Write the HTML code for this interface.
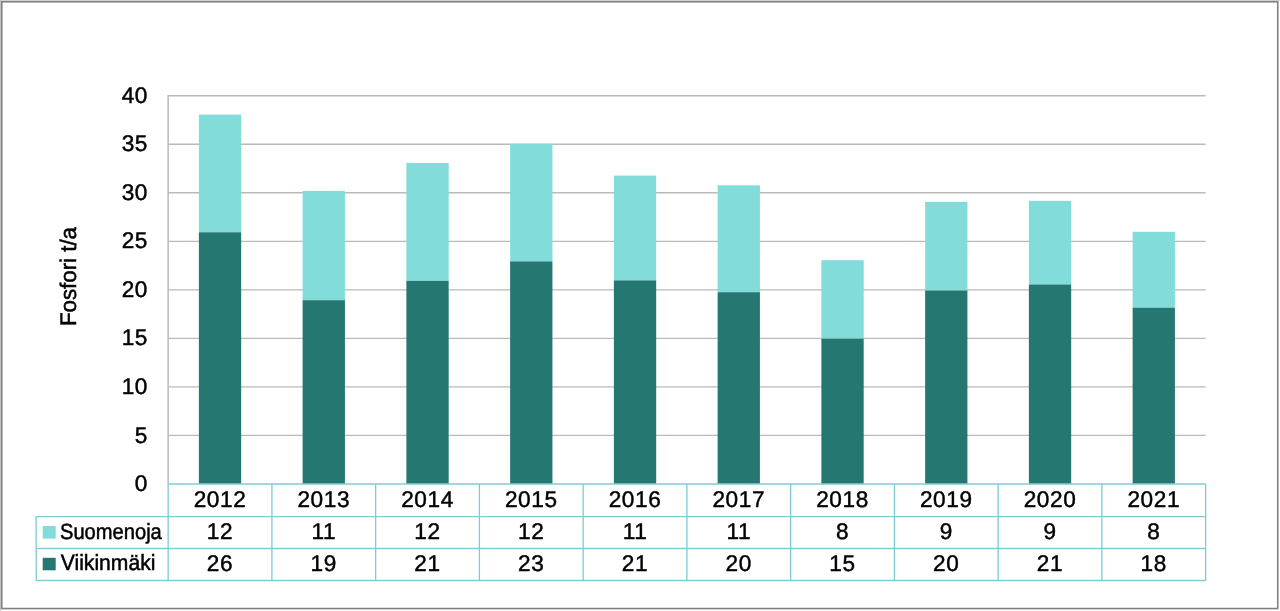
<!DOCTYPE html>
<html lang="fi"><head><meta charset="utf-8"><title>Fosfori t/a</title>
<style>html,body{margin:0;padding:0;background:#fff;overflow:hidden}body{width:1280px;height:611px;position:relative}</style></head>
<body>
<svg width="1280" height="611" viewBox="0 0 1280 611" style="display:block;position:absolute;left:0;top:0" font-family="Liberation Sans, sans-serif" fill="#000" text-rendering="geometricPrecision">
<rect x="0" y="0" width="1280" height="611" fill="#fff"/>
<rect x="0" y="0" width="1280" height="1" fill="#d6d6d6"/><rect x="0" y="0" width="1" height="611" fill="#c8c8c8"/>
<rect x="1.75" y="1.75" width="1276.0" height="606.8" fill="none" stroke="#808080" stroke-width="1.6"/>
<line x1="168.15" y1="435.38" x2="1205.65" y2="435.38" stroke="#bababa" stroke-width="1.33"/>
<line x1="168.15" y1="386.86" x2="1205.65" y2="386.86" stroke="#bababa" stroke-width="1.33"/>
<line x1="168.15" y1="338.33" x2="1205.65" y2="338.33" stroke="#bababa" stroke-width="1.33"/>
<line x1="168.15" y1="289.81" x2="1205.65" y2="289.81" stroke="#bababa" stroke-width="1.33"/>
<line x1="168.15" y1="241.29" x2="1205.65" y2="241.29" stroke="#bababa" stroke-width="1.33"/>
<line x1="168.15" y1="192.76" x2="1205.65" y2="192.76" stroke="#bababa" stroke-width="1.33"/>
<line x1="168.15" y1="144.24" x2="1205.65" y2="144.24" stroke="#bababa" stroke-width="1.33"/>
<line x1="168.15" y1="95.72" x2="1205.65" y2="95.72" stroke="#bababa" stroke-width="1.33"/>
<line x1="168.15" y1="95.12" x2="168.15" y2="483.9" stroke="#bababa" stroke-width="1.5"/>
<rect x="198.88" y="114.6" width="42.3" height="117.70" fill="#82dcd9"/>
<rect x="198.88" y="232.3" width="42.3" height="251.60" fill="#257772"/>
<rect x="302.62" y="190.9" width="42.3" height="109.30" fill="#82dcd9"/>
<rect x="302.62" y="300.2" width="42.3" height="183.70" fill="#257772"/>
<rect x="406.38" y="162.9" width="42.3" height="118.00" fill="#82dcd9"/>
<rect x="406.38" y="280.9" width="42.3" height="203.00" fill="#257772"/>
<rect x="510.12" y="143.9" width="42.3" height="117.50" fill="#82dcd9"/>
<rect x="510.12" y="261.4" width="42.3" height="222.50" fill="#257772"/>
<rect x="613.88" y="175.6" width="42.3" height="104.80" fill="#82dcd9"/>
<rect x="613.88" y="280.4" width="42.3" height="203.50" fill="#257772"/>
<rect x="717.62" y="185.3" width="42.3" height="106.90" fill="#82dcd9"/>
<rect x="717.62" y="292.2" width="42.3" height="191.70" fill="#257772"/>
<rect x="821.38" y="260.2" width="42.3" height="78.50" fill="#82dcd9"/>
<rect x="821.38" y="338.7" width="42.3" height="145.20" fill="#257772"/>
<rect x="925.12" y="201.8" width="42.3" height="88.70" fill="#82dcd9"/>
<rect x="925.12" y="290.5" width="42.3" height="193.40" fill="#257772"/>
<rect x="1028.88" y="200.8" width="42.3" height="83.70" fill="#82dcd9"/>
<rect x="1028.88" y="284.5" width="42.3" height="199.40" fill="#257772"/>
<rect x="1132.62" y="231.8" width="42.3" height="75.90" fill="#82dcd9"/>
<rect x="1132.62" y="307.7" width="42.3" height="176.20" fill="#257772"/>
<g stroke="#80cbd4" stroke-width="1.33" fill="none">
<line x1="168.15" y1="484.0" x2="1205.65" y2="484.0"/>
<line x1="36.05" y1="516.7" x2="1205.65" y2="516.7"/>
<line x1="36.05" y1="548.5" x2="1205.65" y2="548.5"/>
<line x1="36.05" y1="580.5" x2="1205.65" y2="580.5"/>
<line x1="36.05" y1="516.7" x2="36.3" y2="580.5"/>
<line x1="168.15" y1="484.0" x2="168.15" y2="580.5"/>
<line x1="271.90" y1="484.0" x2="271.90" y2="580.5"/>
<line x1="375.65" y1="484.0" x2="375.65" y2="580.5"/>
<line x1="479.40" y1="484.0" x2="479.40" y2="580.5"/>
<line x1="583.15" y1="484.0" x2="583.15" y2="580.5"/>
<line x1="686.90" y1="484.0" x2="686.90" y2="580.5"/>
<line x1="790.65" y1="484.0" x2="790.65" y2="580.5"/>
<line x1="894.40" y1="484.0" x2="894.40" y2="580.5"/>
<line x1="998.15" y1="484.0" x2="998.15" y2="580.5"/>
<line x1="1101.90" y1="484.0" x2="1101.90" y2="580.5"/>
<line x1="1205.65" y1="484.0" x2="1205.65" y2="580.5"/>
</g>
<g font-size="22.6" letter-spacing="0.5" text-anchor="end" stroke="#000" stroke-width="0.45">
<text x="147.8" y="491.05">0</text>
<text x="147.8" y="442.53">5</text>
<text x="147.8" y="394.00">10</text>
<text x="147.8" y="345.48">15</text>
<text x="147.8" y="296.96">20</text>
<text x="147.8" y="248.44">25</text>
<text x="147.8" y="199.91">30</text>
<text x="147.8" y="151.39">35</text>
<text x="147.8" y="102.87">40</text>
</g>
<g font-size="22.6" letter-spacing="0.6" text-anchor="middle" stroke="#000" stroke-width="0.45">
<text x="220.03" y="506.9">2012</text>
<text x="220.03" y="538.9">12</text>
<text x="220.03" y="570.9">26</text>
<text x="323.77" y="506.9">2013</text>
<text x="323.77" y="538.9">11</text>
<text x="323.77" y="570.9">19</text>
<text x="427.52" y="506.9">2014</text>
<text x="427.52" y="538.9">12</text>
<text x="427.52" y="570.9">21</text>
<text x="531.27" y="506.9">2015</text>
<text x="531.27" y="538.9">12</text>
<text x="531.27" y="570.9">23</text>
<text x="635.02" y="506.9">2016</text>
<text x="635.02" y="538.9">11</text>
<text x="635.02" y="570.9">21</text>
<text x="738.77" y="506.9">2017</text>
<text x="738.77" y="538.9">11</text>
<text x="738.77" y="570.9">20</text>
<text x="842.52" y="506.9">2018</text>
<text x="842.52" y="538.9">8</text>
<text x="842.52" y="570.9">15</text>
<text x="946.27" y="506.9">2019</text>
<text x="946.27" y="538.9">9</text>
<text x="946.27" y="570.9">20</text>
<text x="1050.03" y="506.9">2020</text>
<text x="1050.03" y="538.9">9</text>
<text x="1050.03" y="570.9">21</text>
<text x="1153.78" y="506.9">2021</text>
<text x="1153.78" y="538.9">8</text>
<text x="1153.78" y="570.9">18</text>
</g>
<rect x="42.7" y="526" width="13" height="12.6" fill="#82dcd9"/>
<rect x="42.7" y="557.8" width="13" height="12.5" fill="#257772"/>
<text x="60" y="538.5" font-size="22" stroke="#000" stroke-width="0.5" textLength="101.8" lengthAdjust="spacingAndGlyphs">Suomenoja</text>
<text x="60.8" y="570.1" font-size="22" stroke="#000" stroke-width="0.5" textLength="94.6" lengthAdjust="spacingAndGlyphs">Viikinmäki</text>
<text transform="translate(76.2,326) rotate(-90)" font-size="22.6" stroke="#000" stroke-width="0.5" textLength="99" lengthAdjust="spacingAndGlyphs">Fosfori t/a</text>
</svg>
</body></html>
